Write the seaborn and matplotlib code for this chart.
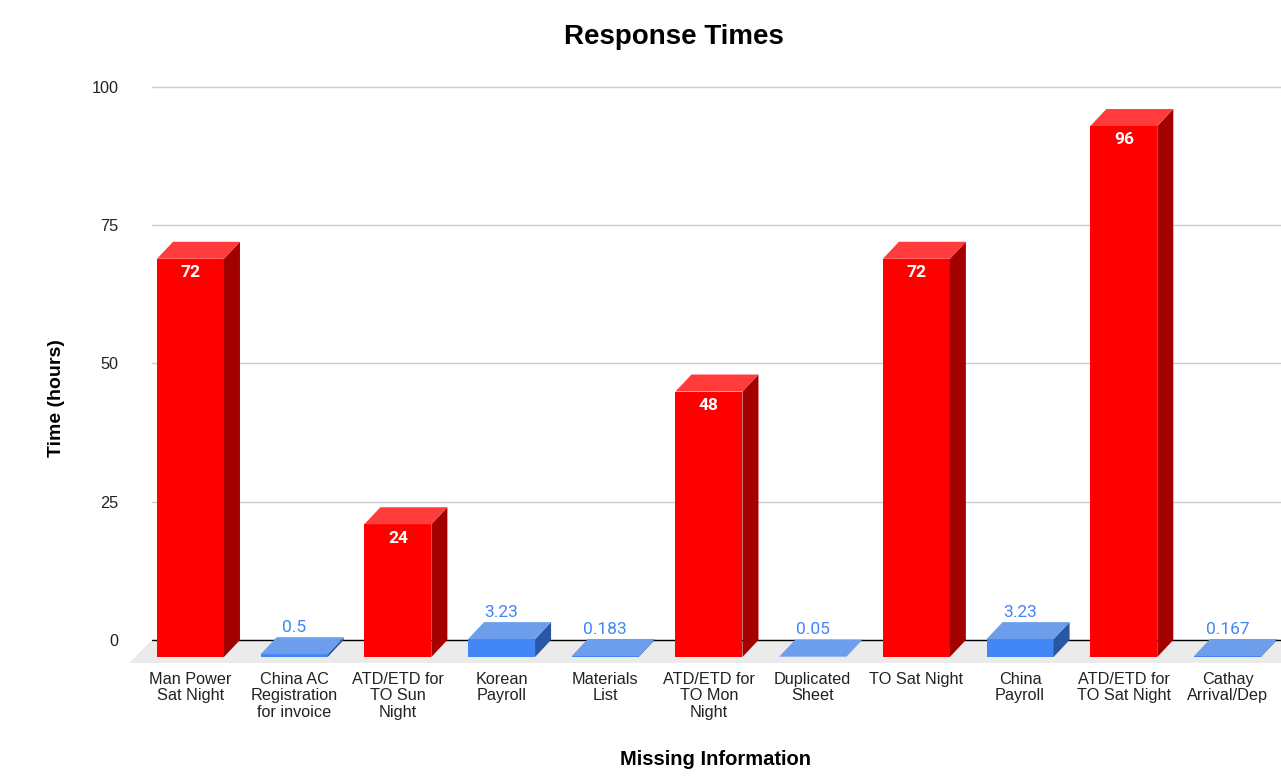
import seaborn as sns
import matplotlib.pyplot as plt
import pandas as pd
from matplotlib.patches import Polygon

# data
items = ["Man Power\nSat Night", "China AC\nRegistration\nfor invoice",
         "ATD/ETD for\nTO Sun\nNight", "Korean\nPayroll", "Materials\nList",
         "ATD/ETD for\nTO Mon\nNight", "Duplicated\nSheet", "TO Sat Night",
         "China\nPayroll", "ATD/ETD for\nTO Sat Night", "Cathay\nArrival/Dep"]
hours = [72, 0.5, 24, 3.23, 0.183, 48, 0.05, 72, 3.23, 96, 0.167]
status = ["late", "quick", "late", "quick", "quick", "late",
          "quick", "late", "quick", "late", "quick"]
y_ticks = [0, 25, 50, 75, 100]

df = pd.DataFrame({"item": items, "hours": hours, "status": status})

front = {"late": "#FF0000", "quick": "#4285F4"}
side = {"late": "#A30000", "quick": "#2B56A6"}
top = {"late": "#FF3B3B", "quick": "#6D9EEB"}

sns.set_style("white")
plt.rcParams["font.family"] = ["Liberation Sans", "DejaVu Sans"]
plt.rcParams["text.color"] = "black"
plt.rcParams["axes.labelcolor"] = "black"

fig = plt.figure(figsize=(12.81, 7.81), dpi=100)
ax = fig.add_axes([152 / 1281, (781 - 663.2) / 781, 1129 / 1281, 581.8 / 781])

sns.barplot(data=df, x="item", y="hours", hue="status", order=items,
            palette=front, width=0.646, dodge=False, legend=False,
            saturation=1, linewidth=0, ax=ax, zorder=3)

# bar patches, left to right
bars = [p for c in ax.containers for p in c if p.get_height() == p.get_height()]
bars = sorted(bars, key=lambda p: p.get_x())

ax.set_xlim(-0.371, 10.516)
ax.set_ylim(-4.2, 101)

# depth of the fake 3D bars, in data units
dx = 16 / 103.7
dy = 17 / 5.53

# floor
x_left = -0.371
ax.add_patch(Polygon([(x_left, 0), (11, 0), (11, -4.2), (x_left - 23 / 103.7, -4.2)],
                     closed=True, facecolor="#EBEBEB", edgecolor="none",
                     zorder=0.8, clip_on=False))
ax.axhline(0, color="black", lw=1, zorder=1)

for i, p in enumerate(bars):
    v = hours[i]
    st = status[i]
    x0 = p.get_x()
    w = p.get_width()
    p.set_y(-dy)
    p.set_height(v)
    ax.add_patch(Polygon([(x0 + w, -dy), (x0 + w + dx, 0), (x0 + w + dx, v), (x0 + w, v - dy)],
                         closed=True, facecolor=side[st], edgecolor="none", zorder=3))
    ax.add_patch(Polygon([(x0, v - dy), (x0 + dx, v), (x0 + w + dx, v), (x0 + w, v - dy)],
                         closed=True, facecolor=top[st], edgecolor="none", zorder=3))
    label = f"{v:g}"
    if st == "late":
        ax.annotate(label, (x0 + w / 2, v - dy), xytext=(0, -10), textcoords="offset points",
                    ha="center", va="center", color="white", fontsize=12.5,
                    fontweight="bold", family="Roboto", zorder=5)
    else:
        ax.annotate(label, (x0 + w / 2, v), xytext=(0, 7), textcoords="offset points",
                    ha="center", va="center", color="#4285F4", fontsize=12.5,
                    family="Roboto", zorder=5)

ax.set_yticks(y_ticks)
ax.yaxis.grid(True, color="#CCCCCC", lw=1)
ax.set_axisbelow(True)
sns.despine(ax=ax, left=True, bottom=True)
ax.tick_params(axis="y", length=0, pad=24, labelsize=11.7, labelcolor="#222222")
ax.tick_params(axis="x", length=0, pad=6, labelsize=11.7, labelcolor="#222222")
for t in ax.get_xticklabels():
    t.set_linespacing(1.16)

ax.set_xlabel("Missing Information", fontsize=14.5, fontweight="bold")
ax.xaxis.set_label_coords((715 - 152) / 1129, (663.2 - 750) / 581.8)
ax.set_ylabel("Time (hours)", fontsize=14, fontweight="bold")
ax.yaxis.set_label_coords((65 - 152) / 1129, (663.2 - 398) / 581.8)

fig.suptitle("Response Times", x=673.5 / 1281, y=1 - 37 / 781, va="center",
             fontsize=20, fontweight="bold", color="black")

plt.savefig("out.png", dpi=100)
plt.close("all")
